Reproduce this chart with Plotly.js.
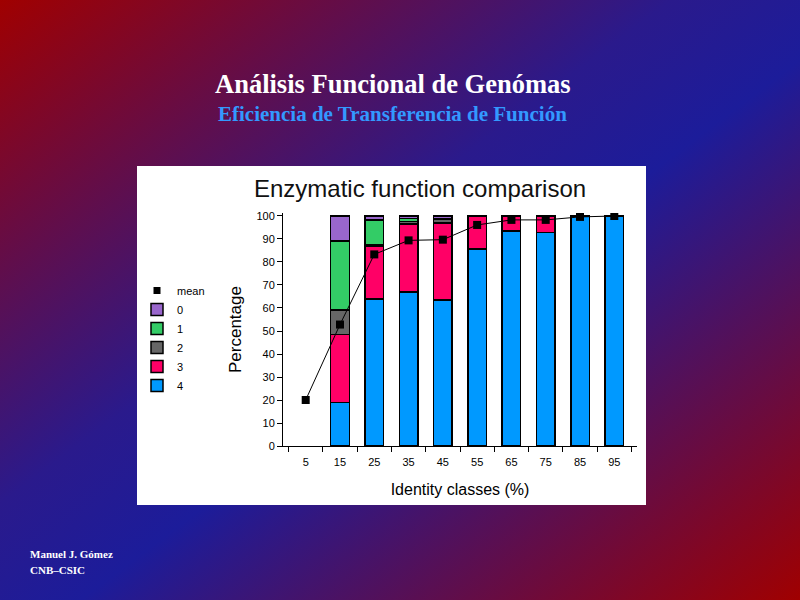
<!DOCTYPE html>
<html>
<head>
<meta charset="utf-8">
<script src="https://cdn.plot.ly/plotly-3.0.1.min.js"></script>
<style>
  html, body { margin: 0; padding: 0; }
  body {
    width: 800px; height: 600px; overflow: hidden;
    background: linear-gradient(to bottom right, #a00000 0%, #2a1a8c 42%, #1c1c9a 55%, #a00000 100%);
  }
  #grafico { width: 800px; height: 600px; }
</style>
</head>
<body>
<div id="grafico"></div>
<script>
// Clases de identidad (%)
const clases = ['5', '15', '25', '35', '45', '55', '65', '75', '85', '95'];

// Porcentaje por nivel de coincidencia EC (4 = todos los dígitos)
const nivel4 = [null, 19, 64, 67, 63.5, 85.7, 93.5, 92.8, 100, 100];
const nivel3 = [null, 29.5, 23, 29.5, 33.5, 14.3, 6.5, 7.2, null, null];
const nivel2 = [null, 10.7, 0.6, 1, 1.5, null, null, null, null, null];
const nivel1 = [null, 30, 10.6, 1.5, 0.5, null, null, null, null, null];
const nivel0 = [null, 10.8, 1.8, 1, 1, null, null, null, null, null];

// Media por clase
const media = [20, 52.8, 83.3, 89.4, 89.7, 96.1, 98.3, 98.3, 99.6, 100];

const colores = {
  n0: '#9966cc',
  n1: '#33cc66',
  n2: '#666666',
  n3: '#ff0066',
  n4: '#0099ff'
};

// margenes del area de trazado, en pixeles
const m = { l: 283, r: 163, t: 213, b: 154 };
const anchoPlot = 800 - m.l - m.r;
const altoPlot = 600 - m.t - m.b;
const px2x = px => (px - m.l) / anchoPlot;
const px2y = py => (600 - m.b - py) / altoPlot;

function barra(nombre, valores, color) {
  return {
    type: 'bar',
    name: nombre,
    x: clases,
    y: valores,
    marker: { color: color, line: { color: '#000000', width: 1.5 } },
    hoverinfo: 'y+name'
  };
}

const trazas = [
  barra('4', nivel4, colores.n4),
  barra('3', nivel3, colores.n3),
  barra('2', nivel2, colores.n2),
  barra('1', nivel1, colores.n1),
  barra('0', nivel0, colores.n0),
  {
    type: 'scatter',
    mode: 'lines+markers',
    name: 'mean',
    x: clases,
    y: media,
    line: { color: '#000000', width: 1 },
    marker: { symbol: 'square', size: 8, color: '#000000' },
    showlegend: false
  },
  {
    // solo para la leyenda (marcador sin linea)
    type: 'scatter',
    mode: 'markers',
    name: 'mean',
    x: [null],
    y: [null],
    marker: { symbol: 'square', size: 7, color: '#000000' }
  }
];

const fuente = 'Liberation Sans, Arial, sans-serif';
const serif = 'Liberation Serif, Times New Roman, serif';

// anotacion de texto en coordenadas de pixel
function texto(t, px, py, tam, color, familia, anclaX) {
  return {
    text: t,
    xref: 'paper', yref: 'paper',
    x: px2x(px), y: px2y(py),
    xanchor: anclaX || 'center',
    yanchor: 'middle',
    showarrow: false,
    font: { family: familia, size: tam, color: color }
  };
}

const layout = {
  width: 800,
  height: 600,
  margin: m,
  paper_bgcolor: 'rgba(0,0,0,0)',
  plot_bgcolor: 'rgba(0,0,0,0)',
  barmode: 'stack',
  bargap: 0.46,
  font: { family: fuente, size: 11, color: '#000000' },
  showlegend: true,
  legend: {
    x: px2x(137),
    y: px2y(276),
    xanchor: 'left',
    yanchor: 'top',
    traceorder: 'reversed',
    itemwidth: 30,
    tracegroupgap: 0,
    font: { family: fuente, size: 11, color: '#000000' },
    bgcolor: 'rgba(0,0,0,0)'
  },
  xaxis: {
    type: 'category',
    showline: true,
    linecolor: '#000000',
    linewidth: 1,
    ticks: 'outside',
    tickson: 'boundaries',
    ticklen: 5,
    tickcolor: '#000000',
    ticklabelstandoff: 6,
    tickfont: { family: fuente, size: 11 },
    showgrid: false,
    zeroline: false,
    fixedrange: true,
    title: {
      text: 'Identity classes (%)',
      font: { family: fuente, size: 16 },
      standoff: 16
    }
  },
  yaxis: {
    range: [0, 101.3],
    tickvals: [0, 10, 20, 30, 40, 50, 60, 70, 80, 90, 100],
    showline: true,
    linecolor: '#000000',
    linewidth: 1,
    ticks: 'outside',
    ticklen: 5,
    tickcolor: '#000000',
    tickfont: { family: fuente, size: 11 },
    showgrid: false,
    zeroline: false,
    fixedrange: true,
    title: {
      text: 'Percentage',
      font: { family: fuente, size: 17 },
      standoff: 10
    }
  },
  shapes: [{
    // panel blanco del grafico
    type: 'rect',
    xref: 'paper',
    yref: 'paper',
    x0: px2x(137),
    x1: px2x(646),
    y0: px2y(505),
    y1: px2y(166),
    fillcolor: '#ffffff',
    line: { width: 0 },
    layer: 'below'
  }],
  annotations: [
    texto('<b>Análisis Funcional de Genómas</b>', 393, 84, 26.5, '#ffffff', serif),
    texto('<b>Eficiencia de Transferencia de Función</b>', 392, 114, 21, '#3399ff', serif),
    texto('Enzymatic function comparison', 420, 188, 24, '#111111', fuente),
    texto('<b>Manuel J. Gómez</b>', 28, 554, 11, '#ffffff', serif, 'left'),
    texto('<b>CNB–CSIC</b>', 28, 570, 11, '#ffffff', serif, 'left')
  ]
};

Plotly.newPlot('grafico', trazas, layout, { displayModeBar: false, staticPlot: true });
</script>
</body>
</html>
